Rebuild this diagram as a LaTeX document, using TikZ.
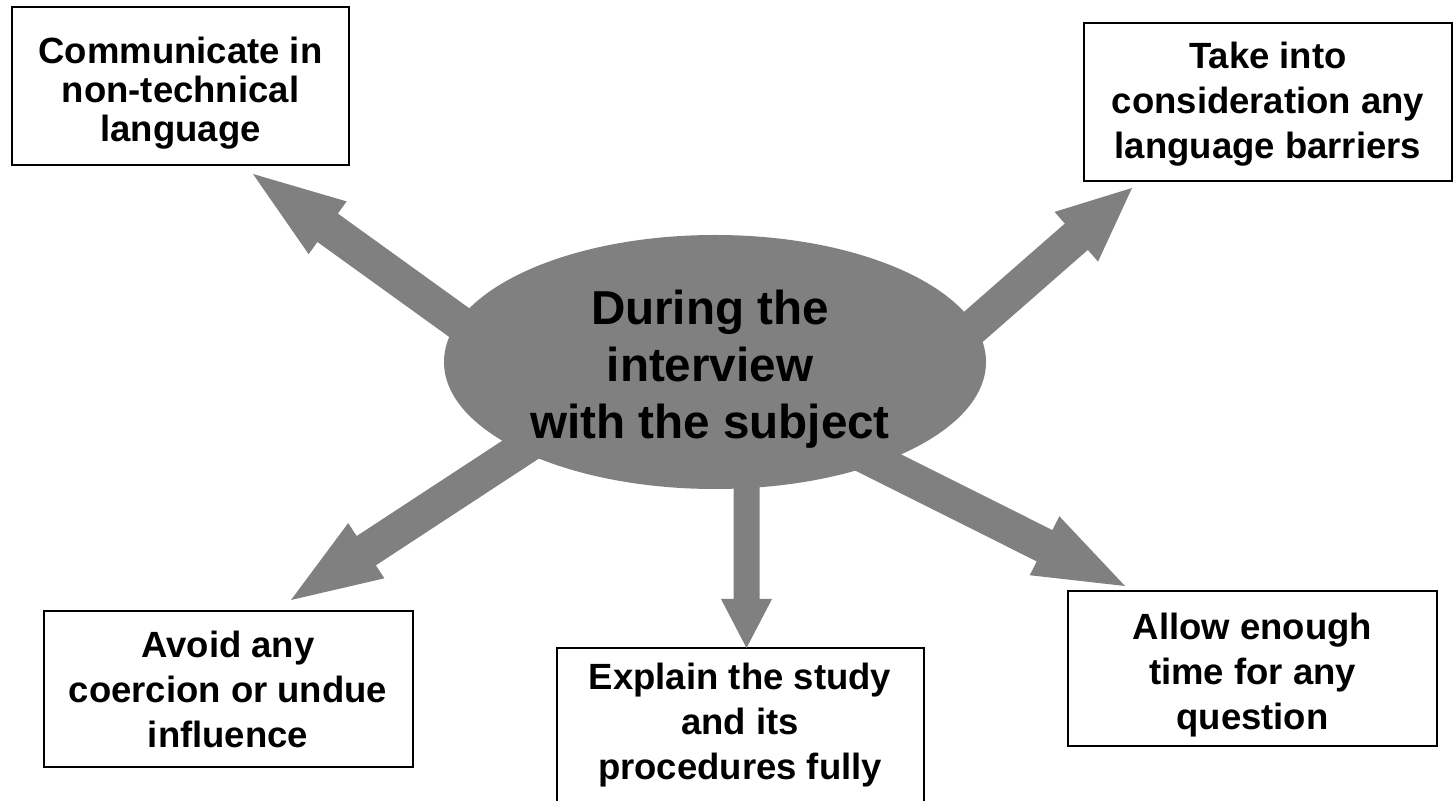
\documentclass[tikz,border=0pt]{standalone}
\usepackage{fontspec}
\setmainfont{Liberation Sans}
\usetikzlibrary{calc,shapes.geometric}
\definecolor{arrowgray}{RGB}{128,128,128}
\tikzset{
  boxnode/.style={draw=black, line width=1.25pt, fill=white, inner sep=0pt},
  boxtext/.style={font=\fontsize{18.25}{22.5}\selectfont\bfseries, align=center, inner sep=0pt},
  boxtexttight/.style={font=\fontsize{18.25}{19.5}\selectfont\bfseries, align=center, inner sep=0pt},
  centertext/.style={font=\fontsize{23.8}{28.5}\selectfont\bfseries, align=center, inner sep=0pt},
  hub/.style={ellipse, fill=arrowgray, inner sep=0pt, minimum width=271pt, minimum height=127pt},
  arrowfill/.style={fill=arrowgray}
}
% #1 start, #2 tip, #3 head length, #4 head half width, #5 shaft half width
\newcommand\blkarrow[5]{%
  \coordinate (#2-base) at ($(#2)!#3!(#1)$);
  \fill[arrowfill] ($(#1)!#5!90:(#2)$) -- ($(#2-base)!#5!90:(#2)$) -- ($(#2-base)!#4!90:(#2)$) -- (#2)
    -- ($(#2-base)!#4!-90:(#2)$) -- ($(#2-base)!#5!-90:(#2)$) -- ($(#1)!#5!-90:(#2)$) -- cycle;}
\begin{document}
\begin{tikzpicture}[x=0.5pt,y=-0.5pt]
\useasboundingbox (0,0) rectangle (1453,801);
\clip (0,0) rectangle (1453,801);
\fill[white] (0,0) rectangle (1453,801);

% boxes
\node[boxnode, minimum width=168.5pt, minimum height=79pt] (tl) at (180.5,86) {};
\node[boxnode, minimum width=184pt, minimum height=79pt] (tr) at (1268,102) {};
\node[boxnode, minimum width=184.5pt, minimum height=78pt] (bl) at (228.5,689) {};
\node[boxnode, minimum width=183.5pt, minimum height=79pt] (bc) at (740.5,727) {};
\node[boxnode, minimum width=184.5pt, minimum height=77.5pt] (br) at (1252.5,668.5) {};

% arrows
\coordinate (ulS) at (512.5,361);  \coordinate (ulT) at (253,174);
\coordinate (urS) at (883.5,405.5); \coordinate (urT) at (1132,188);
\coordinate (dlS) at (558.8,424.6); \coordinate (dlT) at (291,600);
\coordinate (drS) at (830.3,438.5); \coordinate (drT) at (1125,586);
\coordinate (dnS) at (746.5,420);   \coordinate (dnT) at (746.5,648);
\blkarrow{ulS}{ulT}{46pt}{16.25pt}{8.75pt}
\blkarrow{urS}{urT}{37pt}{16.5pt}{8.75pt}
\blkarrow{dlS}{dlT}{45pt}{16.5pt}{8.75pt}
\blkarrow{drS}{drT}{45pt}{16.5pt}{8.75pt}
\blkarrow{dnS}{dnT}{24.5pt}{12.75pt}{6.5pt}

% hub
\node[hub] (hub) at (715,362) {};
\node[centertext] (hubt) at (710,369.5) {During the\\interview\\with the subject};

% texts
\node[boxtexttight] (tlt) at (180.5,93) {Communicate in\\non-technical\\language};
\node[boxtext] (trt) at (1268,104) {Take into\\consideration any\\language barriers};
\node[boxtext] (blt) at (228,689) {Avoid any\\coercion or undue\\influence};
\node[boxtext] (bct) at (740,725) {Explain the study\\and its\\procedures fully};
\node[boxtext] (brt) at (1252.5,675) {Allow enough\\time for any\\question};
\end{tikzpicture}
\end{document}
